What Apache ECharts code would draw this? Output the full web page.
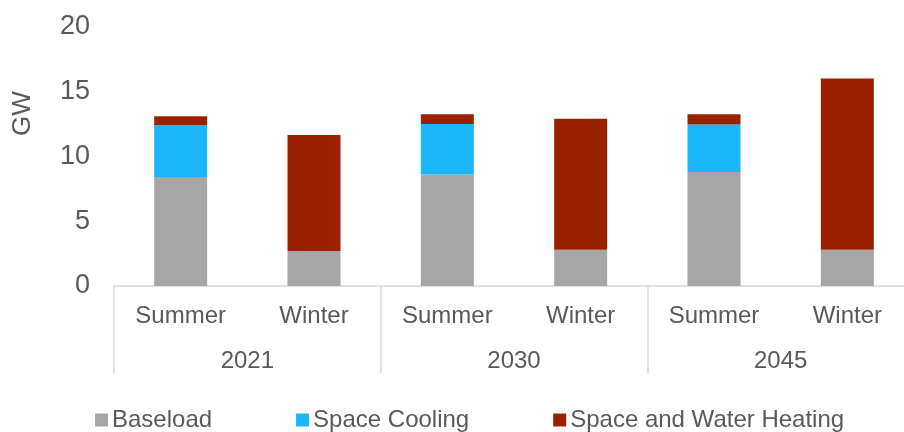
<!DOCTYPE html>
<html>
<head>
<meta charset="utf-8">
<script src="https://cdn.jsdelivr.net/npm/echarts@6/dist/echarts.min.js"></script>
<style>
html,body{margin:0;padding:0;background:#fff;}
#chart{width:904px;height:432px;}
</style>
</head>
<body>
<div id="chart"></div>
<script>
const seasons = ['Summer', 'Winter', 'Summer', 'Winter', 'Summer', 'Winter'];
const years = ['2021', '2030', '2045'];
const baseload = [8.4, 2.7, 8.6, 2.8, 8.8, 2.8];
const spaceCooling = [4.0, 0, 3.9, 0, 3.65, 0];
const heating = [0.7, 8.95, 0.75, 10.1, 0.8, 13.2];
const yTicks = [0, 5, 10, 15, 20];

const FONT = 'Liberation Sans, Arial, sans-serif';
const TXT = '#595959';
const LINE = '#d9d9d9';

const chart = echarts.init(document.getElementById('chart'), null, {renderer: 'canvas'});
chart.setOption({
  animation: false,
  backgroundColor: '#fff',
  grid: {left: 114, top: 26.7, right: -10, bottom: 146, outerBoundsMode: 'none', containLabel: false},
  legend: {
    left: 95, top: 408, padding: 0,
    itemWidth: 13, itemHeight: 13, itemGap: 84,
    icon: 'rect',
    textStyle: {color: TXT, fontSize: 24, fontFamily: FONT, padding: [0, 0, 0, -1]},
    data: ['Baseload', 'Space Cooling', 'Space and Water Heating']
  },
  xAxis: [
    {
      type: 'category', data: seasons, position: 'bottom', offset: 0,
      axisLine: {show: true, lineStyle: {color: LINE, width: 1.5}},
      axisTick: {show: false},
      axisLabel: {color: TXT, fontSize: 24, fontFamily: FONT, margin: 18, interval: 0}
    },
    {
      type: 'category', data: years, position: 'bottom', offset: 0,
      axisLine: {show: false},
      axisTick: {show: true, length: 87, interval: 0, lineStyle: {color: LINE, width: 1.5}},
      axisLabel: {color: TXT, fontSize: 24, fontFamily: FONT, margin: 63, interval: 0}
    }
  ],
  yAxis: {
    type: 'value', min: 0, max: 20, interval: 5,
    axisLine: {show: false}, axisTick: {show: false}, splitLine: {show: false},
    axisLabel: {color: TXT, fontSize: 27, fontFamily: FONT, margin: 24,
      formatter: v => yTicks.includes(v) ? String(v) : ''}
  },
  graphic: [{
    type: 'text', x: 23, y: 113.5, rotation: Math.PI / 2,
    style: {text: 'GW', fill: TXT, fontSize: 26, fontFamily: FONT, align: 'center', verticalAlign: 'middle'}
  }],
  series: [
    {name: 'Baseload', type: 'bar', stack: 'a', barWidth: 53, data: baseload, itemStyle: {color: '#a6a6a6'}},
    {name: 'Space Cooling', type: 'bar', stack: 'a', barWidth: 53, data: spaceCooling, itemStyle: {color: '#19b6f9'}},
    {name: 'Space and Water Heating', type: 'bar', stack: 'a', barWidth: 53, data: heating, itemStyle: {color: '#9b2000'}}
  ]
});
</script>
</body>
</html>
